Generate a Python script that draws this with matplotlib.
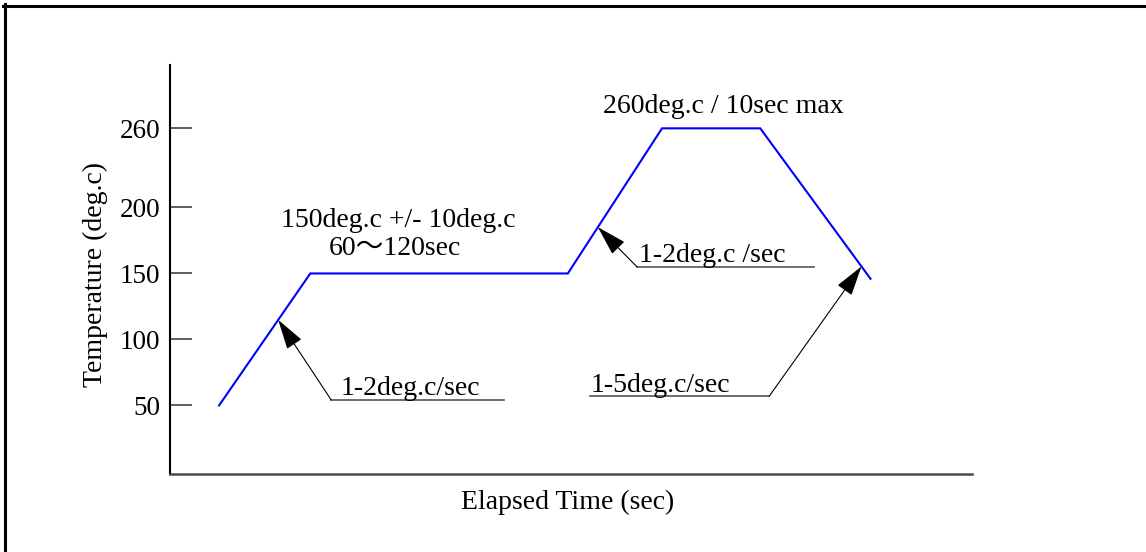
import numpy as np
import matplotlib
matplotlib.use("Agg")
import matplotlib.pyplot as plt
from matplotlib.lines import Line2D

plt.rcParams['font.family'] = ['Liberation Serif', 'Noto Sans CJK JP', 'DejaVu Sans']

# プロファイル (時間は目盛りなしの相対値)
time = [49, 140, 397, 491, 589, 699]
temp = [50, 150, 150, 260, 260, 146]

yticks = [50, 100, 150, 200, 260]
ytick_labels = ['50', '100', '150', '200', '260']

# 注記: (矢印の時間, 引出し線の角, 下線の端, 文字の位置, 文字)
notes = [
    (108, (161, 54), 333, (170, 58), '1-2deg.c/sec'),
    (427, (466, 155), 643, (468, 158.5), '1-2deg.c /sec'),
    (690, (598, 57), 419, (420, 60), '1-5deg.c/sec'),
]

FS = 20

fig = plt.figure(figsize=(11.46, 5.52), dpi=100)
ax = fig.add_axes([0.14834, 0.14130, 0.69956, 0.74094])

ax.plot(time, temp, color='#0000ff', lw=1.5, solid_joinstyle='miter')

ax.set_xlim(0, 800)
ax.set_ylim(-2, 308)
ax.set_xticks([])
ax.set_yticks(yticks)
ax.set_yticklabels(ytick_labels)
ax.tick_params(axis='y', direction='in', length=16, width=1.1, color='#333333',
               pad=7, labelsize=19.5)

for s in ['top', 'right']:
    ax.spines[s].set_visible(False)
ax.spines['left'].set_linewidth(1.5)
ax.spines['left'].set_color('black')
ax.spines['bottom'].set_linewidth(1.8)
ax.spines['bottom'].set_color('#4a4a4a')

# 矢印と下線
for t_tip, corner, end, pos, label in notes:
    y_tip = np.interp(t_tip, time, temp)
    ax.annotate('', xy=(t_tip, y_tip), xytext=corner,
                arrowprops=dict(arrowstyle='-|>,head_length=1.9,head_width=0.55',
                                mutation_scale=10, color='black', lw=0.8,
                                shrinkA=0, shrinkB=0))
    ax.plot([corner[0], end], [corner[1], corner[1]], color='#555555', lw=1.2)
    ax.text(pos[0], pos[1], label, fontsize=FS, ha='left', va='baseline')

ax.text(552, 271.5, '260deg.c / 10sec max', fontsize=FS, ha='center', va='baseline')
ax.text(228, 185.5, '150deg.c +/- 10deg.c', fontsize=FS, ha='center', va='baseline')
ax.text(224, 164, '60～120sec', fontsize=FS, ha='center', va='baseline')

ax.set_xlabel('Elapsed Time (sec)', fontsize=FS, va='baseline', ha='center')
ax.xaxis.set_label_coords(0.4956, -0.0856)
ax.set_ylabel('Temperature (deg.c)', fontsize=FS, va='center', ha='center')
ax.yaxis.set_label_coords(-0.0936, 0.489)

# 左と上の枠線
fig.add_artist(Line2D([4.5 / 1146, 4.5 / 1146], [0, 1 - 4 / 552], color='black', lw=2.2))
fig.add_artist(Line2D([3 / 1146, 1], [1 - 5.5 / 552, 1 - 5.5 / 552], color='black', lw=2.2))

fig.savefig('out.png', dpi=100)
